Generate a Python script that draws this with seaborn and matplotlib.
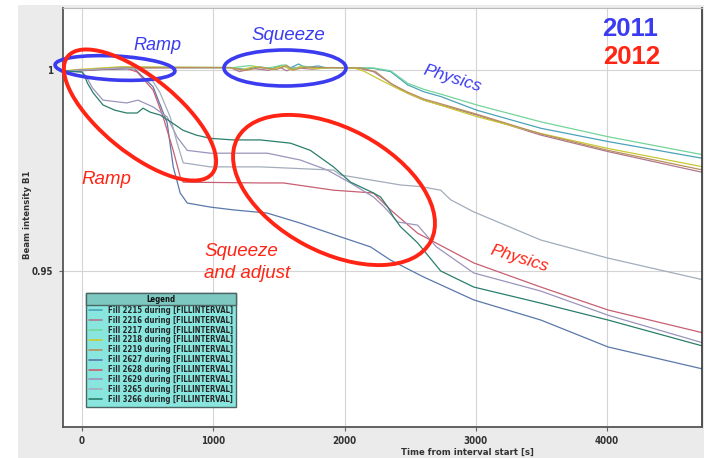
import numpy as np
import pandas as pd
import matplotlib
matplotlib.use("Agg")
import matplotlib.pyplot as plt
import seaborn as sns
from matplotlib.patches import Ellipse, Rectangle
from matplotlib.transforms import IdentityTransform
from matplotlib.font_manager import FontProperties

# ---------------- data ----------------
fills = ["2215", "2216", "2217", "2218", "2219", "2627", "2628", "2629", "3265", "3266"]
line_colors = ["#4aa3b8", "#b07890", "#74d49a", "#c8c832", "#b8905c",
               "#5a78aa", "#c85f72", "#9c94bc", "#a2adbb", "#2a7e6c"]

# 2011 fills: flat through ramp and squeeze, decay in physics
t_2215 = [-140, 0, 300, 1150, 1250, 1350, 1450, 1520, 1580, 1650, 1700, 1800, 1850, 2221, 2351, 2481, 2603, 2733, 3008, 3496, 4008, 4733]
v_2215 = [0.9996, 0.9999, 1.0006, 1.0006, 1.0001, 1.0008, 1.0003, 1.0012, 1.0004, 1.0015, 1.0006, 1.0010, 1.0006, 1.0004, 0.9996, 0.9963, 0.9946, 0.9934, 0.9900, 0.9855, 0.9822, 0.9780]
t_2216 = [-140, 0, 300, 1130, 1200, 1300, 1420, 1500, 1560, 1620, 1750, 1900, 2100, 2221, 2351, 2481, 2603, 2733, 3008, 3496, 4008, 4733]
v_2216 = [0.9994, 0.9998, 1.0005, 1.0006, 0.9996, 1.0004, 0.9999, 1.0008, 0.9998, 1.0006, 1.0002, 1.0006, 1.0005, 0.9996, 0.9967, 0.9942, 0.9925, 0.9913, 0.9888, 0.9838, 0.9797, 0.9745]
t_2217 = [-140, 0, 300, 1150, 1280, 1400, 1550, 1600, 1680, 1800, 1900, 2221, 2351, 2481, 2603, 2733, 3008, 3496, 4008, 4733]
v_2217 = [0.9997, 1.0000, 1.0007, 1.0006, 1.0011, 1.0004, 1.0013, 1.0003, 1.0010, 1.0004, 1.0006, 1.0005, 0.9998, 0.9967, 0.9952, 0.9940, 0.9913, 0.9871, 0.9834, 0.9789]
t_2218 = [-140, 0, 300, 1100, 1220, 1320, 1450, 1540, 1600, 1660, 1780, 1880, 2071, 2148, 2275, 2427, 2606, 3008, 3496, 4005, 4733]
v_2218 = [0.9998, 1.0002, 1.0008, 1.0006, 1.0001, 1.0009, 1.0002, 1.0010, 0.9999, 1.0008, 1.0003, 1.0006, 1.0005, 0.9997, 0.9975, 0.9950, 0.9925, 0.9884, 0.9842, 0.9805, 0.9759]
t_2219 = [-140, 0, 300, 1120, 1240, 1360, 1480, 1560, 1610, 1700, 1860, 2130, 2240, 2360, 2481, 2603, 2733, 3008, 3496, 4008, 4733]
v_2219 = [0.9995, 0.9999, 1.0006, 1.0006, 0.9999, 1.0006, 1.0001, 1.0011, 1.0000, 1.0007, 1.0006, 1.0005, 0.9995, 0.9965, 0.9945, 0.9928, 0.9916, 0.9890, 0.9841, 0.9800, 0.9751]

# 2012 fills: losses in ramp and squeeze
t_2627 = [-140, 0, 400, 542, 649, 695, 748, 802, 977, 1153, 1412, 1664, 1969, 2198, 2351, 2603, 2985, 3496, 4008, 4733]
v_2627 = [0.9997, 1.0000, 1.0003, 0.9958, 0.9868, 0.9759, 0.9694, 0.9669, 0.9659, 0.9652, 0.9644, 0.9619, 0.9585, 0.9560, 0.9527, 0.9485, 0.9428, 0.9378, 0.9311, 0.9256]
t_2628 = [-140, 0, 340, 420, 542, 618, 695, 748, 771, 1359, 1534, 1916, 2221, 2351, 2557, 2985, 3496, 4008, 4733]
v_2628 = [0.9997, 1.0000, 1.0004, 0.9995, 0.9950, 0.9883, 0.9800, 0.9734, 0.9721, 0.9719, 0.9719, 0.9701, 0.9694, 0.9652, 0.9594, 0.9520, 0.9460, 0.9403, 0.9346]
t_2629 = [-140, 0, 30, 80, 160, 340, 427, 542, 649, 725, 802, 977, 1412, 1664, 1870, 2046, 2221, 2300, 2405, 2480, 2557, 2700, 2985, 3496, 4008, 4733]
v_2629 = [0.9997, 0.9995, 0.9985, 0.9955, 0.9925, 0.9918, 0.9925, 0.9908, 0.9883, 0.9833, 0.9800, 0.9793, 0.9793, 0.9776, 0.9751, 0.9719, 0.9684, 0.9660, 0.9622, 0.9618, 0.9614, 0.9560, 0.9495, 0.9450, 0.9390, 0.9321]
t_3265 = [-140, 0, 300, 420, 519, 595, 672, 725, 771, 977, 1359, 1916, 1969, 2427, 2580, 2733, 2809, 2985, 3496, 4008, 4733]
v_3265 = [0.9997, 1.0000, 1.0005, 1.0003, 0.9983, 0.9943, 0.9883, 0.9818, 0.9769, 0.9759, 0.9759, 0.9751, 0.9739, 0.9714, 0.9710, 0.9701, 0.9677, 0.9647, 0.9577, 0.9532, 0.9478]
t_3266 = [-140, 0, 20, 40, 85, 160, 250, 340, 420, 465, 520, 595, 680, 770, 870, 977, 1153, 1359, 1588, 1740, 1916, 2046, 2221, 2275, 2328, 2374, 2427, 2557, 2733, 2985, 3496, 4008, 4733]
v_3266 = [0.9998, 0.9995, 0.9985, 0.9968, 0.9943, 0.9913, 0.9900, 0.9893, 0.9893, 0.9905, 0.9895, 0.9888, 0.9870, 0.9850, 0.9838, 0.9830, 0.9826, 0.9826, 0.9818, 0.9800, 0.9759, 0.9721, 0.9694, 0.9684, 0.9660, 0.9634, 0.9610, 0.9570, 0.9500, 0.9460, 0.9420, 0.9378, 0.9313]

times = [t_2215, t_2216, t_2217, t_2218, t_2219, t_2627, t_2628, t_2629, t_3265, t_3266]
values = [v_2215, v_2216, v_2217, v_2218, v_2219, v_2627, v_2628, v_2629, v_3265, v_3266]

x_ticks = [0, 1000, 2000, 3000, 4000]
y_ticks = [0.95, 1.0]
y_tick_labels = ["0.95", "1"]

# ---------------- figure ----------------
W, H = 712, 458
sns.set_theme(style="white")
fig = plt.figure(figsize=(W / 100, H / 100), dpi=100, facecolor="white")

def P(x, y):
    """reference pixel (from top-left) -> display coords"""
    return (x, H - y)

# gray application background
fig.add_artist(Rectangle((18 / W, 0), (704 - 18) / W, (H - 5) / H, transform=fig.transFigure,
                         facecolor="#ebebeb", edgecolor="none", zorder=-5))

ax = fig.add_axes([63 / W, (H - 427) / H, (702 - 63) / W, (427 - 8) / H])
ax.set_facecolor("white")

labels = [f"Fill {f} during [FILLINTERVAL]" for f in fills]
frames = []
for lab, t, v in zip(labels, times, values):
    frames.append(pd.DataFrame({"t": t, "v": v, "fill": lab}))
df = pd.concat(frames, ignore_index=True)
palette = dict(zip(labels, line_colors))

sns.lineplot(data=df, x="t", y="v", hue="fill", palette=palette, estimator=None,
             sort=False, linewidth=0.9, ax=ax, legend=True)

ax.set_xlim(-145, 4724)
ax.set_ylim(0.91119, 1.01542)
ax.set_xticks(x_ticks)
ax.set_xticklabels([str(x) for x in x_ticks])
ax.set_yticks(y_ticks)
ax.set_yticklabels(y_tick_labels)
ax.grid(True, color="#d4d4d4", linewidth=0.8)
ax.set_axisbelow(True)

tick_font = FontProperties(family="DejaVu Sans", weight="bold", size=7, stretch="condensed")
for lbl in ax.get_xticklabels() + ax.get_yticklabels():
    lbl.set_fontproperties(tick_font)
    lbl.set_color("#333333")
ax.tick_params(axis="both", direction="out", length=3, width=0.8, color="#666666", pad=4)
ax.tick_params(axis="x", pad=3.5)
ax.tick_params(left=True, bottom=True)

for side in ["left", "bottom"]:
    ax.spines[side].set_color("#555555")
    ax.spines[side].set_linewidth(1.3)
ax.spines["right"].set_color("#333333")
ax.spines["right"].set_linewidth(1.2)
ax.spines["top"].set_color("#bbbbbb")
ax.spines["top"].set_linewidth(0.8)

lab_font = FontProperties(family="DejaVu Sans", weight="bold", size=6.8, stretch="condensed")
ax.set_xlabel("")
ax.set_ylabel("")
fig.text(467 / W, 1 - 452 / H, "Time from interval start [s]", fontproperties=lab_font,
         color="#333333", ha="center", va="center")
fig.text(28 / W, 1 - 215 / H, "Beam intensity B1", fontproperties=lab_font, rotation=90,
         color="#333333", ha="center", va="center")

# ---------------- legend ----------------
handles, hl = ax.get_legend_handles_labels()
leg_font = FontProperties(family="DejaVu Sans", weight="bold", size=5.6, stretch="condensed")
leg = ax.legend(handles, hl, loc="upper left", bbox_to_anchor=(86 / W, 1 - 293 / H),
                bbox_transform=fig.transFigure, borderaxespad=0, frameon=True, fancybox=False,
                framealpha=1, facecolor="#88e6df", edgecolor="#4b6664", prop=leg_font,
                labelspacing=0.12, handlelength=1.7, handletextpad=0.8, borderpad=0.35,
                title=" ", title_fontproperties=leg_font)
leg.get_frame().set_linewidth(1.0)
for lh in leg.get_lines():
    lh.set_linewidth(1.2)
leg.set_zorder(5)

fig.canvas.draw()
renderer = fig.canvas.get_renderer()
lb = leg.get_window_extent(renderer)
first_txt = leg.get_texts()[0].get_window_extent(renderer)
hdr_y0 = first_txt.y1 + 0.5
fig.add_artist(Rectangle((lb.x0, hdr_y0), lb.width, lb.y1 - hdr_y0, transform=IdentityTransform(),
                         facecolor="#7ec8c2", edgecolor="#4b6664", linewidth=1.0, zorder=6))
fig.text((lb.x0 + lb.x1) / 2 / W, (hdr_y0 + lb.y1) / 2 / H, "Legend", fontproperties=leg_font,
         color="#111111", ha="center", va="center", zorder=7)

# ---------------- annotations ----------------
blue = "#3b3bf0"
red = "#ff2414"

def ell(cx, cy, w, h, ang, col, lw):
    fig.add_artist(Ellipse(P(cx, cy), w, h, angle=ang, transform=IdentityTransform(),
                           fill=False, edgecolor=col, linewidth=lw, zorder=8))

ell(115, 68, 120, 24, -3, blue, 2.6)
ell(285, 68, 122, 36, 0, blue, 2.6)
ell(140, 115, 186, 76, -39, red, 2.8)
ell(334, 190, 219, 124, -28, red, 2.8)

def T(x, y, s, col, size, rot=0, ha="center", weight="normal", style="italic"):
    fig.text(x / W, 1 - y / H, s, color=col, fontsize=size, rotation=rot, ha=ha, va="center",
             family="Liberation Sans", style=style, weight=weight, zorder=9,
             rotation_mode="anchor")

T(157, 46, "Ramp", blue, 13)
T(288, 36, "Squeeze", blue, 13.5)
T(452, 79, "Physics", blue, 12.5, rot=-17)
T(106, 179, "Ramp", red, 13.5)
T(204, 252, "Squeeze", red, 13.5, ha="left")
T(204, 274, "and adjust", red, 13.5, ha="left")
T(519, 259, "Physics", red, 12.5, rot=-17)
T(630, 29, "2011", blue, 18.5, weight="bold", style="normal")
T(632, 57, "2012", red, 18.5, weight="bold", style="normal")

fig.savefig("out.png", dpi=100, facecolor=fig.get_facecolor())
